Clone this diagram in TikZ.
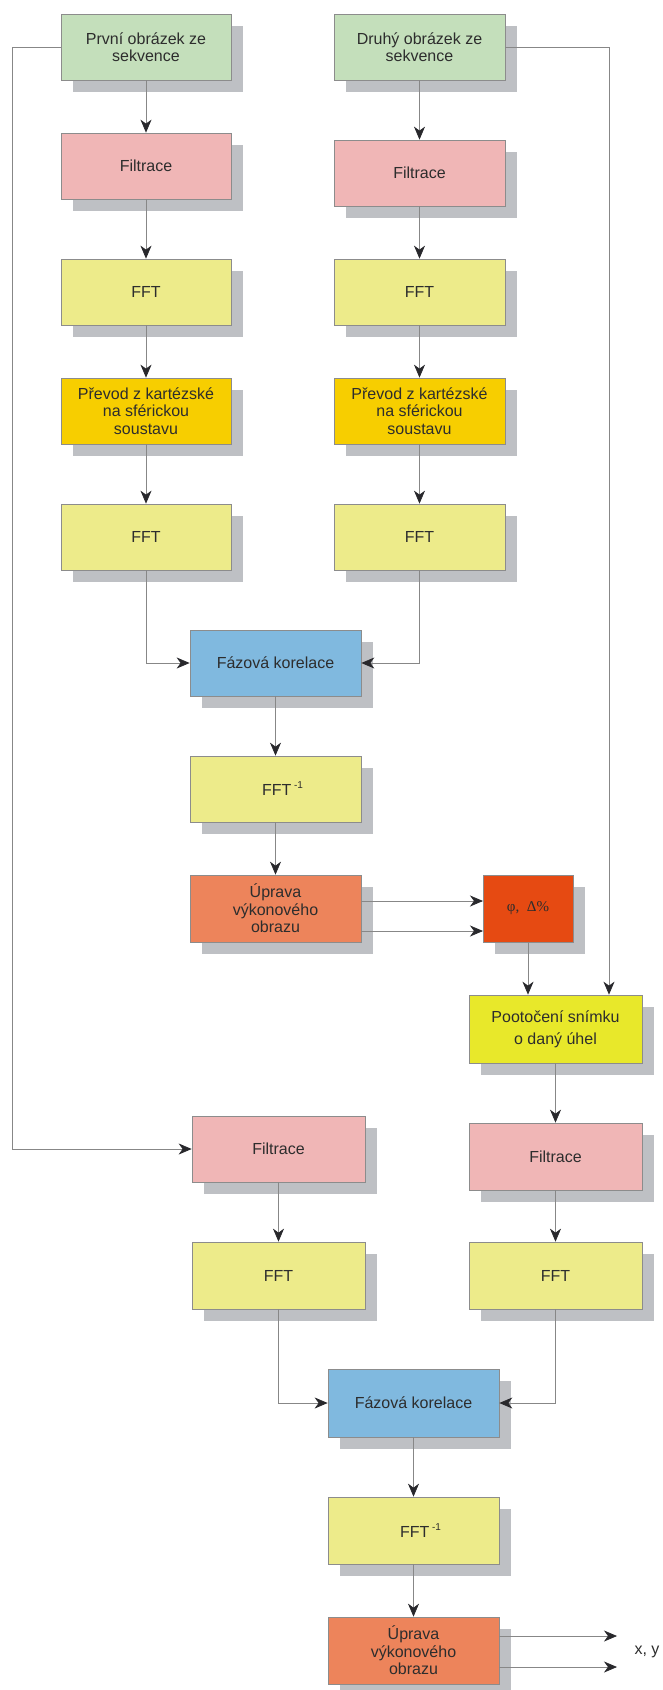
\documentclass[tikz,border=0pt]{standalone}
\usepackage{fontspec}
\setmainfont{Liberation Sans}
\newfontfamily\grserif{Liberation Serif}
\usetikzlibrary{arrows.meta,shadows,calc}
\definecolor{cgreen}{RGB}{196,223,187}
\definecolor{cpink}{RGB}{240,182,182}
\definecolor{cyel}{RGB}{237,235,138}
\definecolor{cgold}{RGB}{247,206,0}
\definecolor{cblue}{RGB}{128,185,223}
\definecolor{csalmon}{RGB}{237,132,91}
\definecolor{cred}{RGB}{230,74,18}
\definecolor{cbright}{RGB}{232,232,42}
\definecolor{shd}{RGB}{190,192,196}
\definecolor{bordc}{RGB}{140,140,140}
\definecolor{linec}{RGB}{135,135,135}
\definecolor{arrc}{RGB}{40,40,44}
\definecolor{txt}{RGB}{45,45,45}
\tikzset{
  box/.style={draw=bordc, line width=0.7pt, minimum width=171pt, minimum height=66pt,
    inner sep=0pt, text=txt, align=center, font=\fontsize{16}{17.5}\selectfont,
    drop shadow={shadow xshift=12pt, shadow yshift=-12pt, fill=shd, opacity=1}},
  conn/.style={draw=linec, line width=0.7pt,
    -{Stealth[length=13pt,width=11pt,inset=4pt,color=arrc]}},
}
\begin{document}
\begin{tikzpicture}[x=1pt,y=-1pt]
\useasboundingbox[fill=white] (0,0) rectangle (663,1690);
% column 1
\node[box,fill=cgreen,minimum width=170pt] (p1) at (146,47) {První obrázek ze\\sekvence};
\node[box,fill=cpink,minimum width=170pt] (f1) at (146,166) {Filtrace};
\node[box,fill=cyel,minimum width=170pt] (fft1) at (146,292) {FFT};
\node[box,fill=cgold,minimum width=170pt] (pr1) at (146,411) {Převod z kartézské\\na sférickou\\soustavu};
\node[box,fill=cyel,minimum width=170pt] (fftb1) at (146,537) {FFT};
% column 2
\node[box,fill=cgreen] (d1) at (419.5,47) {Druhý obrázek ze\\sekvence};
\node[box,fill=cpink] (f2) at (419.5,173) {Filtrace};
\node[box,fill=cyel] (fft2) at (419.5,292) {FFT};
\node[box,fill=cgold] (pr2) at (419.5,411) {Převod z kartézské\\na sférickou\\soustavu};
\node[box,fill=cyel] (fftb2) at (419.5,537) {FFT};
% middle
\node[box,fill=cblue] (fk1) at (275.5,663) {Fázová korelace};
\node[box,fill=cyel] (ifft1) at (275.5,789) {\hspace*{14pt}FFT\,\raisebox{7pt}{\fontsize{10}{10}\selectfont -1}};
\node[box,fill=csalmon,minimum height=67pt] (up1) at (275.5,908.5) {Úprava\\výkonového\\obrazu};
\node[box,fill=cred,minimum width=90pt,minimum height=67pt,font=\grserif\fontsize{15}{16}\selectfont] (phi) at (528,908.5) {φ,\ \ Δ\%};
\node[box,fill=cbright,minimum width=173pt,minimum height=68pt,font=\fontsize{16}{22}\selectfont] (poot) at (555.5,1029) {Pootočení snímku\\o daný úhel};
\node[box,fill=cpink,minimum width=173pt] (f3) at (278.5,1149) {Filtrace};
\node[box,fill=cpink,minimum width=173pt,minimum height=67pt] (f4) at (555.5,1156.5) {Filtrace};
\node[box,fill=cyel,minimum width=173pt,minimum height=67pt] (fft3) at (278.5,1275.5) {FFT};
\node[box,fill=cyel,minimum width=173pt,minimum height=67pt] (fft4) at (555.5,1275.5) {FFT};
\node[box,fill=cblue,minimum height=68pt] (fk2) at (413.5,1403) {Fázová korelace};
\node[box,fill=cyel,minimum height=67pt] (ifft2) at (413.5,1530.5) {\hspace*{14pt}FFT\,\raisebox{7pt}{\fontsize{10}{10}\selectfont -1}};
\node[box,fill=csalmon,minimum height=67pt] (up2) at (413.5,1650.5) {Úprava\\výkonového\\obrazu};
\node[text=txt,font=\fontsize{16}{18}\selectfont] (xy) at (647,1652) {x, y};
% helper coordinates
\coordinate (lft) at (12,47);
\coordinate (rgt) at (609,47);
\coordinate (a1) at (483,901);
\coordinate (a2) at (483,931);
\coordinate (o1) at (617,1636);
\coordinate (o2) at (617,1667);
% connectors
\draw[conn] (p1) -- (f1);
\draw[conn] (f1) -- (fft1);
\draw[conn] (fft1) -- (pr1);
\draw[conn] (pr1) -- (fftb1);
\draw[conn] (d1) -- (f2);
\draw[conn] (f2) -- (fft2);
\draw[conn] (fft2) -- (pr2);
\draw[conn] (pr2) -- (fftb2);
\draw[conn] (fftb1.south) |- (fk1.west);
\draw[conn] (fftb2.south) |- (fk1.east);
\draw[conn] (fk1) -- (ifft1);
\draw[conn] (ifft1) -- (up1);
\draw[conn] (up1.east |- a1) -- (a1);
\draw[conn] (up1.east |- a2) -- (a2);
\draw[conn] (phi.south) -- (phi.south |- poot.north);
\draw[conn] (d1.east) -- (rgt) -- (poot.north -| rgt);
\draw[conn] (p1.west) -- (lft) |- (f3.west);
\draw[conn] (poot) -- (f4);
\draw[conn] (f4) -- (fft4);
\draw[conn] (f3) -- (fft3);
\draw[conn] (fft3.south) |- (fk2.west);
\draw[conn] (fft4.south) |- (fk2.east);
\draw[conn] (fk2) -- (ifft2);
\draw[conn] (ifft2) -- (up2);
\draw[conn] (up2.east |- o1) -- (o1);
\draw[conn] (up2.east |- o2) -- (o2);
\end{tikzpicture}
\end{document}
